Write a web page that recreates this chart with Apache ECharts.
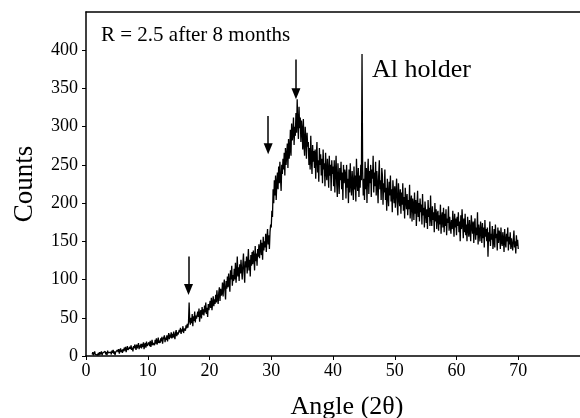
<!DOCTYPE html>
<html>
<head>
<meta charset="utf-8">
<script src="https://cdn.jsdelivr.net/npm/echarts@6/dist/echarts.min.js"></script>
<style>html,body{margin:0;padding:0;background:#fff}#c{width:580px;height:418px}</style>
</head>
<body>
<div id="c"></div>
<script>
// XRD step scan: first angle and step (degrees 2θ)
const angleStart = 1.0;
const angleStep = 0.1;
// counts, one value per step (one row per degree)
const counts = [
  2,5,1,3,6,2,0,4,3,1,
  4,1,5,2,3,6,1,4,2,5,
  3,6,2,5,1,7,4,2,6,3,
  5,2,7,4,8,3,6,1,5,7,
  4,8,5,9,3,7,10,5,8,4,
  9,6,11,7,12,5,9,13,8,10,
  7,12,9,14,8,11,6,13,10,15,
  12,8,15,10,13,17,9,14,11,16,
  10,16,12,18,9,14,17,11,19,13,
  15,11,18,13,20,12,16,21,14,17,
  19,14,21,16,23,15,18,24,17,20,
  17,23,19,25,16,22,20,27,18,24,
  21,27,19,25,30,22,28,24,31,23,
  29,24,32,27,22,30,34,26,31,28,
  27,34,31,37,29,35,32,39,30,36,
  38,33,40,36,42,37,44,70,46,41,
  50,43,55,39,52,46,58,44,53,49,
  47,58,51,62,45,56,60,49,64,54,
  61,53,66,57,70,55,63,51,68,60,
  58,72,63,76,60,69,78,65,74,68,
  80,70,86,75,68,83,90,72,88,79,
  82,96,78,92,100,85,74,98,88,104,
  90,108,95,84,112,100,118,92,106,98,
  114,100,122,96,110,130,104,116,98,120,
  108,126,112,100,120,134,110,96,124,116,
  130,108,122,140,112,126,104,132,118,136,
  120,138,128,112,144,124,134,118,140,130,
  146,128,140,152,132,148,126,156,138,150,
  142,160,136,154,166,146,158,140,162,172,
  168,190,182,218,200,230,210,236,204,226,
  240,218,248,226,254,232,216,250,238,258,
  244,266,236,272,250,262,278,246,284,258,
  270,296,262,304,282,290,312,276,300,288,
  318,292,336,304,284,326,298,312,280,308,
  296,270,310,276,262,300,284,258,292,274,
  280,250,272,244,288,258,238,276,254,268,
  246,270,232,262,280,240,256,228,272,250,
  264,236,258,226,270,244,252,222,266,240,
  230,258,242,220,262,236,250,216,256,238,
  248,222,256,214,240,262,226,208,252,234,
  212,246,230,254,218,240,204,250,226,244,
  238,206,250,220,232,200,244,214,252,224,
  210,242,226,204,248,218,236,202,258,228,
  216,246,208,236,220,250,230,395,244,210,
  232,204,254,218,246,200,238,258,212,242,
  226,250,208,244,232,262,214,240,222,254,
  210,242,224,200,236,256,218,230,204,246,
  236,198,226,214,244,204,220,190,232,210,
  196,228,210,236,202,218,188,230,214,200,
  222,194,214,232,200,184,226,208,196,218,
  186,214,198,226,190,208,180,220,204,192,
  212,184,204,192,224,180,200,210,176,206,
  198,178,214,186,204,170,196,216,182,200,
  176,206,188,198,172,212,184,194,168,202,
  200,174,192,166,204,182,194,170,210,180,
  170,196,178,188,162,200,176,192,166,186,
  190,164,184,172,198,160,180,188,168,194,
  162,186,170,192,158,180,174,196,164,182,
  184,160,178,166,190,172,156,186,168,180,
  158,182,170,188,162,176,150,184,166,192,
  174,154,180,162,186,158,172,150,182,166,
  156,178,164,150,184,170,160,176,148,172,
  180,152,168,158,188,146,172,162,150,176,
  164,148,174,154,168,142,178,156,166,150,
  168,130,162,150,176,144,160,152,170,140,
  150,166,142,172,154,160,138,168,148,164,
  160,140,168,150,144,162,152,136,166,148,
  142,160,150,168,138,156,146,162,140,154,
  156,138,152,164,142,150,134,158,144,152,
  140
];
// arrows: [angle, top count, tip count]
const arrows = [[16.6,130,87],[29.5,314,271],[34.0,388,343]];
const xTicks = [0,10,20,30,40,50,60,70];
const yTicks = [0,50,100,150,200,250,300,350,400];
const labelText = 'R = 2.5 after 8 months';
const peakText = 'Al holder';

const seriesData = counts.map((v,i)=>[+(angleStart + i*angleStep).toFixed(2), v]);
const font = '"Liberation Serif","Times New Roman",serif';
const chart = echarts.init(document.getElementById('c'), null, {renderer:'canvas'});
chart.setOption({
  animation:false,
  backgroundColor:'#fff',
  grid:{left:86, top:12, right:0, bottom:62, containLabel:false, outerBoundsMode:'none'},
  xAxis:[{
    type:'value', min:0, max:80, interval:10,
    axisLine:{show:true, lineStyle:{color:'#000', width:1.5}},
    axisTick:{show:true, length:4, customValues:xTicks, lineStyle:{color:'#000'}},
    splitLine:{show:false},
    axisLabel:{color:'#000', fontFamily:font, fontSize:18, margin:6,
      formatter:v=> xTicks.includes(v) ? String(v) : ''},
    name:'Angle (2θ)', nameLocation:'middle', nameGap:38,
    nameTextStyle:{color:'#000', fontFamily:font, fontSize:26, padding:[0,0,0,28]}
  },{
    type:'value', min:0, max:80, position:'top',
    axisLine:{show:true, onZero:false, lineStyle:{color:'#000', width:1.5}},
    axisTick:{show:false}, axisLabel:{show:false}, splitLine:{show:false}
  }],
  yAxis:{
    type:'value', min:0, max:450, interval:50,
    axisLine:{show:true, lineStyle:{color:'#000', width:1.5}},
    axisTick:{show:true, length:4, customValues:yTicks, lineStyle:{color:'#000'}},
    splitLine:{show:false},
    axisLabel:{color:'#000', fontFamily:font, fontSize:18, margin:8,
      formatter:v=> yTicks.includes(v) ? String(v) : ''},
    name:'Counts', nameLocation:'middle', nameGap:48,
    nameTextStyle:{color:'#000', fontFamily:font, fontSize:27}
  },
  series:[{
    type:'line', data:seriesData, showSymbol:false, symbol:'none',
    lineStyle:{color:'#000', width:1.3},
    markLine:{
      silent:true, symbol:['none','triangle'], symbolSize:[9,11],
      lineStyle:{color:'#000', width:1.5, type:'solid'},
      label:{show:false},
      data: arrows.map(a=>[{coord:[a[0],a[1]]},{coord:[a[0],a[2]]}])
    }
  }],
  graphic:[
    {type:'text', left:101, top:25, style:{text:labelText, fill:'#000', font:'21px '+font}},
    {type:'text', left:372, top:57, style:{text:peakText, fill:'#000', font:'26px '+font}}
  ]
});
</script>
</body>
</html>
